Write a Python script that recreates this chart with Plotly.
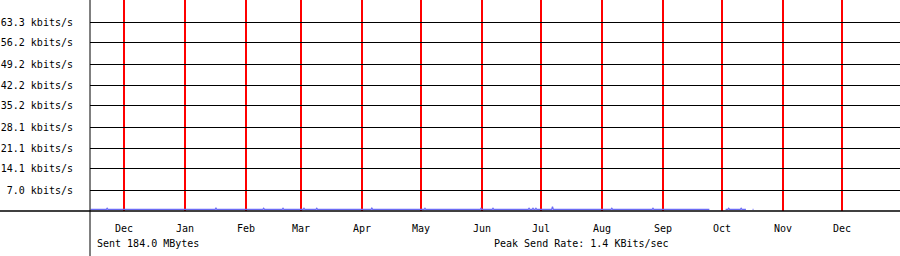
import plotly.graph_objects as go

# ---- data ----
month_starts = ["2009-12-01", "2010-01-01", "2010-02-01", "2010-03-01", "2010-04-01",
                "2010-05-01", "2010-06-01", "2010-07-01", "2010-08-01", "2010-09-01",
                "2010-10-01", "2010-11-01", "2010-12-01"]
month_labels = ["Dec", "Jan", "Feb", "Mar", "Apr", "May", "Jun", "Jul", "Aug", "Sep",
                "Oct", "Nov", "Dec"]
y_ticks = [7.03, 14.07, 21.1, 28.13, 35.17, 42.2, 49.23, 56.27, 63.3]
y_labels = ["7.0 kbits/s", "14.1 kbits/s", "21.1 kbits/s", "28.1 kbits/s", "35.2 kbits/s",
            "42.2 kbits/s", "49.2 kbits/s", "56.2 kbits/s", "63.3 kbits/s"]

send_time = [
    "2009-11-14 00:00", "2009-11-22 00:00", "2009-11-22 10:00", "2009-11-22 20:00",
    "2010-01-16 08:00", "2010-01-16 18:00", "2010-01-17 04:00",
    "2010-02-09 14:00", "2010-02-10 00:00", "2010-02-10 10:00",
    "2010-02-19 10:00", "2010-02-19 20:00", "2010-02-20 06:00",
    "2010-03-02 02:00", "2010-03-02 12:00", "2010-03-02 22:00",
    "2010-03-08 14:00", "2010-03-09 00:00", "2010-03-09 10:00",
    "2010-04-05 14:00", "2010-04-06 00:00", "2010-04-06 10:00",
    "2010-05-02 14:00", "2010-05-03 00:00", "2010-05-03 10:00",
    "2010-05-31 02:00", "2010-05-31 12:00", "2010-05-31 22:00",
    "2010-06-06 04:00", "2010-06-06 14:00", "2010-06-07 00:00",
    "2010-06-24 12:00", "2010-06-24 22:00", "2010-06-25 08:00",
    "2010-06-26 12:00", "2010-06-26 22:00", "2010-06-27 08:00",
    "2010-06-28 00:00", "2010-06-28 10:00", "2010-06-28 20:00",
    "2010-07-06 10:00", "2010-07-06 20:00", "2010-07-07 06:00",
    "2010-08-05 14:00", "2010-08-06 00:00", "2010-08-06 10:00",
    "2010-08-26 12:00", "2010-08-26 22:00", "2010-08-27 08:00",
    "2010-09-24 14:00", "2010-09-28 00:00",
    "2010-10-02 20:00", "2010-10-04 00:00", "2010-10-04 10:00", "2010-10-04 20:00",
    "2010-10-10 08:00", "2010-10-10 18:00", "2010-10-11 04:00", "2010-10-13 04:00",
    "2010-10-15 00:00", "2010-10-16 14:00", "2010-10-17 00:00",
]
send_kbps = [
    0.55, 0.55, 0.90, 0.55,
    0.55, 0.95, 0.55,
    0.55, 0.90, 0.55,
    0.55, 0.90, 0.55,
    0.55, 0.90, 0.55,
    0.55, 0.90, 0.55,
    0.55, 0.95, 0.55,
    0.55, 0.90, 0.55,
    0.55, 0.90, 0.55,
    0.55, 0.90, 0.55,
    0.55, 0.90, 0.55,
    0.55, 0.90, 0.55,
    0.55, 0.90, 0.55,
    0.55, 1.40, 0.55,
    0.55, 0.90, 0.55,
    0.55, 0.90, 0.55,
    0.55, None,
    0.55, 0.55, 0.90, 0.55,
    0.55, 0.90, 0.55, 0.55,
    None, 0.55, 0.55,
]

FONT = "DejaVu Sans Mono"

fig = go.Figure()
fig.add_trace(go.Scatter(
    x=send_time, y=send_kbps, mode="lines",
    line=dict(color="#6b6bf5", width=1.3),
    connectgaps=False, hoverinfo="skip", showlegend=False,
))

fig.update_layout(
    width=900, height=256,
    margin=dict(l=90, r=0, t=0, b=45),
    paper_bgcolor="white", plot_bgcolor="white",
    font=dict(family=FONT, size=10, color="black"),
    xaxis=dict(
        type="date",
        range=["2009-11-13 17:00", "2010-12-30 12:00"],
        tickvals=month_starts, ticktext=month_labels,
        showgrid=True, gridcolor="#ff0000", gridwidth=2,
        ticks="", showline=False, zeroline=False,
        tickfont=dict(family=FONT, size=10, color="black"),
        ticklabelstandoff=10,
        fixedrange=True,
    ),
    yaxis=dict(
        range=[0, 70.67],
        tickvals=y_ticks, ticktext=y_labels,
        showgrid=True, gridcolor="black", gridwidth=1,
        ticks="", showline=False, zeroline=False,
        tickfont=dict(family=FONT, size=10, color="black"),
        ticklabelstandoff=16,
        fixedrange=True,
    ),
    shapes=[
        dict(type="line", xref="paper", yref="paper", x0=-90 / 810, x1=1, y0=0, y1=0,
             line=dict(color="black", width=1.5), layer="above"),
        dict(type="line", xref="paper", yref="paper", x0=0, x1=0, y0=-45 / 211, y1=1,
             line=dict(color="black", width=1), layer="above"),
    ],
    annotations=[
        dict(text="Sent 184.0 MBytes", xref="paper", yref="paper",
             x=5 / 810, y=-32 / 211, xanchor="left", yanchor="middle",
             showarrow=False, font=dict(family=FONT, size=10, color="black")),
        dict(text="Peak Send Rate: 1.4 KBits/sec", xref="paper", yref="paper",
             x=(581 - 90) / 810, y=-32 / 211, xanchor="center", yanchor="middle",
             showarrow=False, font=dict(family=FONT, size=10, color="black")),
    ],
)

fig.write_html("out.html")
